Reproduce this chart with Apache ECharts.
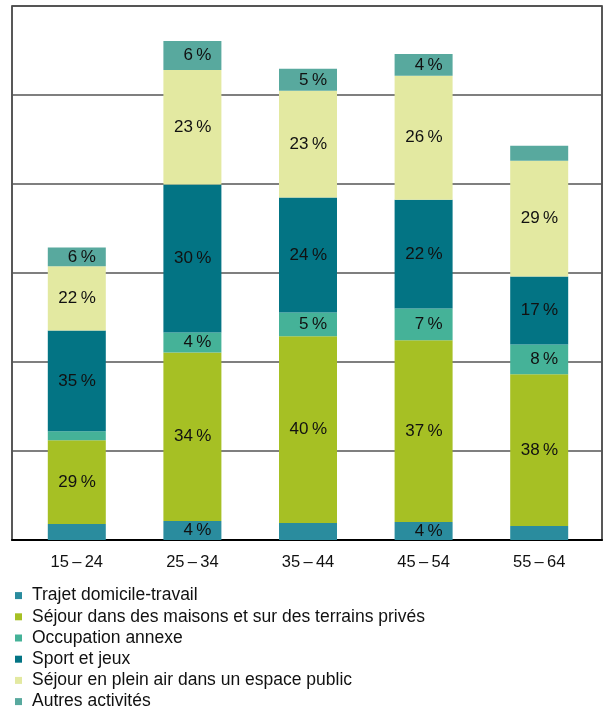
<!DOCTYPE html>
<html>
<head>
<meta charset="utf-8">
<script src="https://cdn.jsdelivr.net/npm/echarts@6/dist/echarts.min.js"></script>
<style>
  html, body { margin: 0; padding: 0; background: #fff; }
  #chart { width: 605px; height: 708px; }
</style>
</head>
<body>
<div id="chart"></div>
<script>
// Categories (age groups)
const categories = ['15\u2009–\u200924', '25\u2009–\u200934', '35\u2009–\u200944', '45\u2009–\u200954', '55\u2009–\u200964'];

// Series names (bottom to top)
const seriesNames = [
  'Trajet domicile-travail',
  'Séjour dans des maisons et sur des terrains privés',
  'Occupation annexe',
  'Sport et jeux',
  'Séjour en plein air dans un espace public',
  'Autres activités'
];

// Absolute values (arbitrary units, gridline every 1000)
const trajet  = [179, 213, 191, 202, 157];
const prives  = [942, 1895, 2097, 2041, 1705];
const annexe  = [101, 224, 269, 359, 336];
const sport   = [1133, 1663, 1290, 1222, 763];
const pleinAir = [721, 1286, 1200, 1391, 1301];
const autres  = [210, 325, 247, 247, 168];

// Percent labels shown in the bars (null = no label)
const trajetPct  = [null, 4, null, 4, null];
const privesPct  = [29, 34, 40, 37, 38];
const annexePct  = [null, 4, 5, 7, 8];
const sportPct   = [35, 30, 24, 22, 17];
const pleinAirPct = [22, 23, 23, 26, 29];
const autresPct  = [6, 6, 5, 4, null];

const colors = ['#2A8C9E', '#A6C024', '#45B298', '#037484', '#E3E9A1', '#58A99E'];
const values = [trajet, prives, annexe, sport, pleinAir, autres];
const pcts = [trajetPct, privesPct, annexePct, sportPct, pleinAirPct, autresPct];

const FONT = '"Liberation Sans", Arial, Helvetica, sans-serif';

const chart = echarts.init(document.getElementById('chart'), null, { renderer: 'canvas' });

const series = values.map((vals, s) => ({
  name: seriesNames[s],
  type: 'bar',
  stack: 'total',
  xAxisIndex: 1,
  yAxisIndex: 1,
  barWidth: 58,
  itemStyle: { color: colors[s] },
  emphasis: { disabled: true },
  data: vals.map((v, i) => ({
    value: v,
    label: {
      show: pcts[s][i] != null,
      position: 'insideRight',
      distance: 10,
      color: '#111',
      fontSize: 17,
      fontFamily: FONT,
      formatter: () => pcts[s][i] + '\u2009%'
    }
  }))
}));

chart.setOption({
  animation: false,
  backgroundColor: '#fff',
  color: colors,
  grid: [
    { left: 12, right: 3, top: 6, bottom: 168, show: true, borderColor: '#222', borderWidth: 1.5, backgroundColor: 'transparent' },
    { left: 19, right: 8, top: 6, bottom: 168 }
  ],
  xAxis: [
    { type: 'category', gridIndex: 0, data: categories,
      axisLine: { show: true, lineStyle: { color: '#000', width: 2 } },
      axisTick: { show: false }, axisLabel: { show: false }, splitLine: { show: false } },
    { type: 'category', gridIndex: 1, data: categories,
      axisLine: { show: false }, axisTick: { show: false },
      axisLabel: { color: '#111', fontSize: 16.5, fontFamily: FONT, margin: 14 } }
  ],
  yAxis: [
    { type: 'value', gridIndex: 0, min: 0, max: 6000, interval: 1000,
      axisLine: { show: false }, axisTick: { show: false }, axisLabel: { show: false },
      splitLine: { show: true, lineStyle: { color: '#555', width: 1.5 } } },
    { type: 'value', gridIndex: 1, min: 0, max: 6000, interval: 1000, show: false,
      splitLine: { show: false } }
  ],
  legend: {
    orient: 'vertical',
    left: 15,
    top: 585,
    height: 200,
    padding: 0,
    itemGap: 0,
    itemWidth: 7,
    itemHeight: 7,
    icon: 'rect',
    selectedMode: false,
    data: seriesNames,
    textStyle: { color: '#111', fontSize: 17.5, fontFamily: FONT, lineHeight: 21.2, padding: [0, 0, 0, 5] }
  },
  series: series
});
</script>
</body>
</html>
